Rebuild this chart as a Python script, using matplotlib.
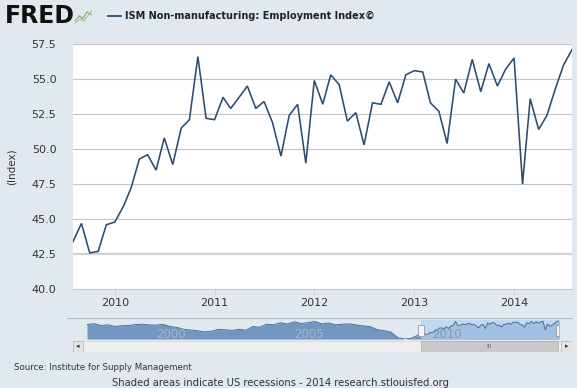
import numpy as np
import pandas as pd
import matplotlib
matplotlib.use("Agg")
import matplotlib.pyplot as plt
import matplotlib.dates as mdates
from matplotlib.patches import Rectangle

# ── Data ──────────────────────────────────────────────────────────────────────

START = "2009-08-01"
employment = [
    43.4, 44.7, 42.6, 42.7, 44.6,                                           # 2009
    44.8, 45.9, 47.2, 49.3, 49.6, 48.5, 50.8, 48.9, 51.5, 52.1, 56.6, 52.2,  # 2010
    52.1, 53.7, 52.9, 53.7, 54.5, 52.9, 53.4, 51.9, 49.5, 52.4, 53.2, 49.0,  # 2011
    54.9, 53.2, 55.3, 54.6, 52.0, 52.6, 50.3, 53.3, 53.2, 54.8, 53.3, 55.3,  # 2012
    55.6, 55.5, 53.3, 52.7, 50.4, 55.0, 54.0, 56.4, 54.1, 56.1, 54.5, 55.7,  # 2013
    56.5, 47.5, 53.6, 51.4, 52.4, 54.3, 56.0, 57.1,                          # 2014
]
yticks = [40.0, 42.5, 45.0, 47.5, 50.0, 52.5, 55.0, 57.5]
year_ticks = [2010, 2011, 2012, 2013, 2014]

# navigator: coarse history before the selected window
nav_hist_dates = ["1997-07", "1997-10", "1998-01", "1998-04", "1998-07", "1998-10",
                  "1999-01", "1999-04", "1999-07", "1999-10", "2000-01", "2000-04",
                  "2000-07", "2000-10", "2001-01", "2001-04", "2001-07", "2001-10",
                  "2002-01", "2002-04", "2002-07", "2002-10", "2003-01", "2003-04",
                  "2003-07", "2003-10", "2004-01", "2004-04", "2004-07", "2004-10",
                  "2005-01", "2005-04", "2005-07", "2005-10", "2006-01", "2006-04",
                  "2006-07", "2006-10", "2007-01", "2007-04", "2007-07", "2007-10",
                  "2008-01", "2008-04", "2008-07", "2008-10", "2009-01", "2009-04"]
nav_hist_vals = [53.0, 54.0, 52.0, 52.8, 51.0, 51.8, 52.0, 53.0, 53.5, 52.6, 52.5,
                 53.2, 51.0, 50.0, 48.0, 47.2, 46.5, 45.2, 46.0, 47.8, 47.5, 46.8,
                 48.0, 47.0, 51.0, 50.2, 53.5, 52.8, 55.0, 53.6, 56.0, 54.2, 55.0,
                 56.3, 53.7, 54.8, 52.7, 53.5, 53.7, 52.6, 51.7, 50.8, 47.7, 46.5,
                 45.0, 39.0, 37.7, 38.5]
nav_years = [2000, 2005, 2010]

# ── Style ─────────────────────────────────────────────────────────────────────

BG        = "#e1e8ef"
LINE_COL  = "#2c4c6e"
GRID_COL  = "#c4c4c4"
TEXT_COL  = "#333333"
NAV_FILL  = "#7097bf"
NAV_SEL   = "#c2daf0"

W, H = 577, 388
plt.rcParams["font.family"] = "DejaVu Sans"

def box(x0, y0, x1, y1):
    """pixel box (top-left origin) -> figure fraction rect"""
    return [x0 / W, 1 - y1 / H, (x1 - x0) / W, (y1 - y0) / H]

fig = plt.figure(figsize=(W / 100, H / 100), dpi=100, facecolor=BG)

# ── Main chart ────────────────────────────────────────────────────────────────

dates = pd.date_range(START, periods=len(employment), freq="MS")

ax = fig.add_axes(box(73, 44, 572, 289.3))
ax.set_facecolor("white")
ax.plot(dates, employment, color=LINE_COL, lw=1.15, solid_joinstyle="miter", zorder=3)
ax.set_xlim(dates[0], dates[-1])
ax.set_ylim(40, 57.5)
ax.set_yticks(yticks)
ax.set_yticklabels([f"{v:.1f}" for v in yticks])
for v in yticks[1:]:
    if v == 42.5:
        ax.axhline(v, color="#d2d2d2", lw=1.6, zorder=1)
    else:
        ax.axhline(v, color=GRID_COL, lw=0.8, zorder=1)
ax.set_xticks([pd.Timestamp(f"{y}-01-01") for y in year_ticks])
ax.xaxis.set_major_formatter(mdates.DateFormatter("%Y"))
ax.tick_params(axis="y", length=0, pad=12, labelsize=8, labelcolor=TEXT_COL)
ax.tick_params(axis="x", length=4, width=0.6, color="#c8d2dc", pad=2,
               labelsize=8, labelcolor=TEXT_COL)
for s in ["top", "right", "left"]:
    ax.spines[s].set_visible(False)
ax.spines["bottom"].set_color("#c0cad4")
ax.spines["bottom"].set_linewidth(0.8)
ax.set_ylabel("(Index)", fontsize=7.5, color=TEXT_COL, labelpad=11)

# ── Header ────────────────────────────────────────────────────────────────────

fig.text(5 / W, 1 - 16 / H, "FRED", fontsize=17, fontweight="heavy",
         color="#111111", va="center", ha="left")
icon = fig.add_axes(box(75, 9, 92, 24))
icon.set_facecolor("#eef1ee")
icon.plot([0, 0.25, 0.45, 0.7, 1.0], [0.2, 0.55, 0.35, 0.8, 0.6], color="#7fb36a", lw=0.8)
icon.plot([0, 0.3, 0.5, 0.75, 1.0], [0.05, 0.35, 0.2, 0.55, 0.9], color="#9aa39a", lw=0.6)
icon.set_xlim(0, 1)
icon.set_ylim(0, 1)
icon.axis("off")

fig.lines.append(plt.Line2D([108 / W, 121 / W], [1 - 16 / H, 1 - 16 / H],
                            color=LINE_COL, lw=1.3, transform=fig.transFigure))
fig.text(125 / W, 1 - 16 / H, "ISM Non-manufacturing: Employment Index©",
         fontsize=7.0, fontweight="bold", color="#222222", va="center", ha="left")

# ── Navigator ─────────────────────────────────────────────────────────────────

nav_dates = list(pd.to_datetime(nav_hist_dates)) + list(dates)
nav_vals = nav_hist_vals + employment
lo = min(nav_vals)

fig.lines.append(plt.Line2D([67 / W, 572 / W], [1 - 318 / H, 1 - 318 / H],
                            color="#b8c0c8", lw=0.8, transform=fig.transFigure))

nav = fig.add_axes(box(87, 320, 559, 339))
nav.set_facecolor("none")
nav.axvspan(dates[0], dates[-1], color=NAV_SEL, lw=0, zorder=0)
nav.fill_between(nav_dates, nav_vals, lo, color=NAV_FILL, lw=0, zorder=1)
nav.fill_between(dates, employment, lo, color="#a0c1e3", lw=0, zorder=1.5)
nav.plot(nav_dates, nav_vals, color="#4b6f96", lw=0.7, zorder=2)
nav.set_xlim(nav_dates[0], nav_dates[-1])
nav.set_ylim(lo, max(nav_vals) + 0.8)
for y in nav_years:
    col = "#a5b9cc" if y < 2009 else "#8299b0"
    nav.text(pd.Timestamp(f"{y}-01-01"), lo + 4.5, str(y), fontsize=8.5,
             color=col, ha="left", va="center", zorder=3)
for d in (dates[0], dates[-1]):
    nav.add_patch(Rectangle((mdates.date2num(d) - 40, lo + 3), 80, 12,
                            facecolor="#f4f4f4", edgecolor="#999999", lw=0.6, zorder=4))
nav.axis("off")

# scrollbar
sb = fig.add_axes(box(73, 341, 572, 352))
sb.set_xlim(73, 572)
sb.set_ylim(0, 1)
sb.add_patch(Rectangle((73, 0), 499, 1, facecolor="#eeeeee", edgecolor="#d8d8d8", lw=0.6))
sb.add_patch(Rectangle((73, 0), 10, 1, facecolor="#e4e4e4", edgecolor="#bbbbbb", lw=0.6))
sb.add_patch(Rectangle((561, 0), 11, 1, facecolor="#e4e4e4", edgecolor="#bbbbbb", lw=0.6))
sb.add_patch(Rectangle((421, 0), 137, 1, facecolor="#c9c9c9", edgecolor="#b0b0b0", lw=0.6))
sb.text(78, 0.5, "◂", fontsize=5, ha="center", va="center", color="#333333")
sb.text(566.5, 0.5, "▸", fontsize=5, ha="center", va="center", color="#333333")
sb.text(489.5, 0.5, "III", fontsize=4.5, ha="center", va="center", color="#666666")
sb.axis("off")

# ── Footer ────────────────────────────────────────────────────────────────────

fig.text(14 / W, 1 - 367 / H, "Source: Institute for Supply Management",
         fontsize=6.2, color=TEXT_COL, ha="left", va="center")
fig.text(280 / W, 1 - 383 / H,
         "Shaded areas indicate US recessions - 2014 research.stlouisfed.org",
         fontsize=7.2, color=TEXT_COL, ha="center", va="center")

fig.savefig("out.png", dpi=100, facecolor=BG)
